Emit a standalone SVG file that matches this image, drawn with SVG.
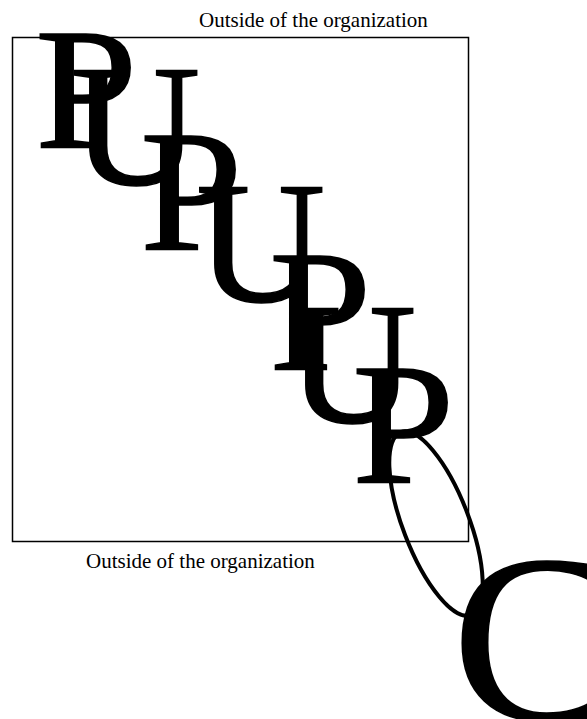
<svg xmlns="http://www.w3.org/2000/svg" width="587" height="719" viewBox="0 0 587 719">
<style>
.lbl{font-family:"Liberation Serif","Times New Roman",serif;font-size:21px;fill:#000}
.big{font-family:"Liberation Serif","Times New Roman",serif;font-size:174px;fill:#000;stroke:#000;stroke-width:1.5}
.huge{font-family:"Liberation Serif","Times New Roman",serif;font-size:240px;fill:#000;stroke:#000;stroke-width:1.5}
</style>
<rect x="0" y="0" width="587" height="719" fill="#fff"/>
<g id="boundary">
<rect x="12.5" y="37.5" width="456" height="504" fill="none" stroke="#000" stroke-width="1.5"/>
</g>
<g id="label-top"><text class="lbl" x="199" y="27">Outside of the organization</text></g>
<g id="label-bottom"><text class="lbl" x="86" y="568">Outside of the organization</text></g>
<g id="p1"><text class="big" transform="translate(35 148) scale(1.06 1)">P</text></g>
<g id="u1"><text class="big" transform="translate(71 184) scale(1.03 1)">U</text></g>
<g id="p2"><text class="big" transform="translate(140 250) scale(1.06 1)">P</text></g>
<g id="u2"><text class="big" transform="translate(196 300.5) scale(1.03 1)">U</text></g>
<g id="p3"><text class="big" transform="translate(269 370) scale(1.06 1)">P</text></g>
<g id="u3"><text class="big" transform="translate(287 422) scale(1.03 1)">U</text></g>
<g id="p4"><text class="big" transform="translate(352 483) scale(1.06 1)">P</text></g>
<g id="connectors">
<ellipse cx="436" cy="523.5" rx="33" ry="98" transform="rotate(-21 436 523.5)" fill="none" stroke="#000" stroke-width="4"/>
</g>
<g id="c1"><text class="huge" transform="translate(452 720) scale(1.04 1)">C</text></g>
</svg>
